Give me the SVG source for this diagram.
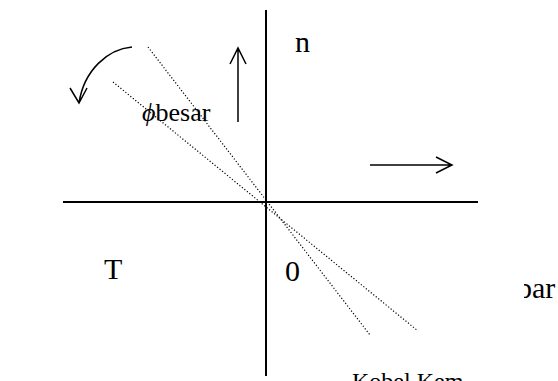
<svg xmlns="http://www.w3.org/2000/svg" width="558" height="381" viewBox="0 0 558 381">
<style>
.t{font-family:"Liberation Serif","Times New Roman",serif;font-size:30px;fill:#000}
.ax{stroke:#000;stroke-width:2;fill:none}
.ar{stroke:#000;stroke-width:1.5;fill:none}
.dot{stroke:#000;stroke-width:1.2;stroke-dasharray:1.2 2;fill:none}
</style>
<defs>
<clipPath id="cbar"><rect x="524" y="270" width="40" height="40"/></clipPath>
<clipPath id="ckem"><rect x="330" y="372" width="150" height="10"/></clipPath>
</defs>
<g id="connectors">
<line class="ax" x1="266" y1="10" x2="266" y2="376"/>
<line class="ax" x1="63" y1="202" x2="478" y2="202"/>
<line class="dot" x1="148" y1="47" x2="370" y2="335"/>
<line class="dot" x1="113" y1="82" x2="418" y2="331"/>
<path class="ar" d="M238 122 V48 M230 64 L238 48 L246 64"/>
<path class="ar" d="M370 165 H452 M436 157 L452 165 L436 173"/>
<path class="ar" d="M132 47 C108 49 84 70 79 103 M70 88 L79 103 L87 88"/>
</g>
<g id="labels">
<text class="t" x="295" y="52">n</text>
<text class="t" x="142" y="121" style="font-size:26px"><tspan font-style="italic">ϕ</tspan>besar</text>
<text class="t" x="104" y="279">T</text>
<text class="t" x="285" y="281">0</text>
<text class="t" x="517" y="298" clip-path="url(#cbar)">bar</text>
<text class="t" x="352" y="389" style="font-size:24px" clip-path="url(#ckem)">Kobel Kem</text>
</g>
</svg>
